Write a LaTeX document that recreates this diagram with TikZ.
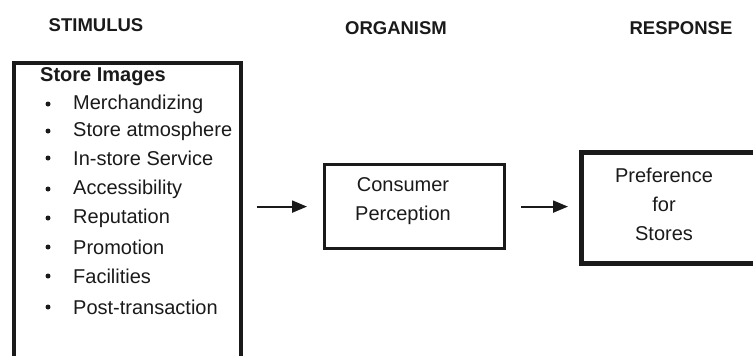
\documentclass[tikz,border=0pt]{standalone}
\usepackage{fontspec}
\setmainfont{Liberation Sans}
\usetikzlibrary{arrows.meta}
\definecolor{ink}{HTML}{1A1A1A}
\begin{document}
\begin{tikzpicture}[x=1pt,y=-1pt,
  hdr/.style={font=\fontsize{18.5}{20}\selectfont\bfseries, text=ink, inner sep=0pt},
  body/.style={font=\fontsize{20}{29}\selectfont, text=ink, inner sep=0pt},
  item/.style={body, anchor=west},
  dot/.style={circle, fill=ink, inner sep=0pt, minimum size=5pt},
  frame/.style={draw=ink, rectangle},
  arr/.style={draw=ink, line width=2pt, -{Triangle[length=15pt,width=12pt]}}]
\useasboundingbox (0,0) rectangle (753,356);
\clip (0,0) rectangle (753,356);
% headers
\node[hdr] (h1) at (96,25) {STIMULUS};
\node[hdr] (h2) at (396,28) {ORGANISM};
\node[hdr] (h3) at (681,28) {RESPONSE};
% stimulus box
\node[frame, line width=3.6pt, anchor=north west, minimum width=227pt, minimum height=320pt] (stim) at (12,61) {};
\node[body, font=\fontsize{20}{24}\selectfont\bfseries, anchor=west] (title) at (40,77) {Store Images};
\foreach \t/\y [count=\i] in {Merchandizing/104, Store atmosphere/131, In-store Service/158, Accessibility/189, Reputation/218, Promotion/247, Facilities/276, Post-transaction/307}{
  \node[dot] (b\i) at (48,\y) {};
  \node[item] (i\i) at (73,\y) {\t};
}
% organism box
\node[frame, line width=3.2pt, anchor=north west, minimum width=180pt, minimum height=84pt] (cons) at (323,163) {};
\node[body, align=center] (constext) at (403,201) {Consumer\\Perception};
% response box
\node[frame, line width=4.5pt, anchor=north west, minimum width=190pt, minimum height=111pt] (pref) at (579,150) {};
\node[body, align=center] (preftext) at (664,204) {Preference\\for\\Stores};
% arrows
\draw[arr, shorten <=14pt, shorten >=16pt] (stim.east |- cons.west) -- (cons.west);
\draw[arr, shorten <=15pt, shorten >=11pt] (cons.east) -- (pref.west |- cons.east);
\end{tikzpicture}
\end{document}
